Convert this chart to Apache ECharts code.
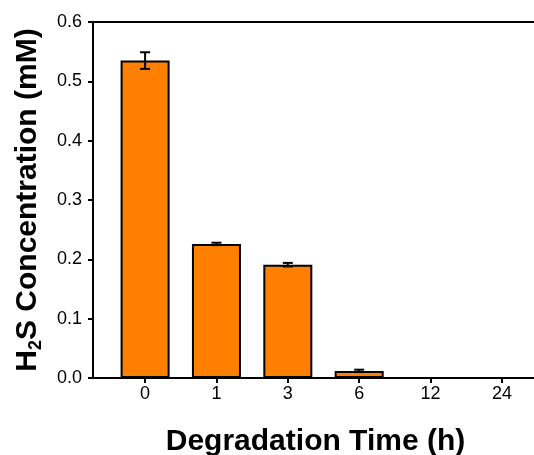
<!DOCTYPE html>
<html>
<head>
<meta charset="utf-8">
<script src="https://cdn.jsdelivr.net/npm/echarts@6/dist/echarts.min.js"></script>
<style>
html,body{margin:0;padding:0;background:#fff;}
#chart{width:534px;height:455px;}
</style>
</head>
<body>
<div id="chart"></div>
<script>
var categories = ['0', '1', '3', '6', '12', '24'];
var concentrations = [0.535, 0.226, 0.191, 0.012, 0, 0];
var errors = [0.014, 0.002, 0.003, 0.002, 0, 0];
var yTicks = [0, 0.1, 0.2, 0.3, 0.4, 0.5, 0.6];

var FONT = 'Arial, "Liberation Sans", sans-serif';
var positions = categories.map(function (c, i) { return i; });

var barData = concentrations.map(function (v, i) { return [positions[i], v]; });
var errData = [];
concentrations.forEach(function (v, i) {
  if (errors[i] > 0) errData.push([positions[i], v - errors[i], v + errors[i]]);
});

var chart = echarts.init(document.getElementById('chart'), null, {renderer: 'canvas'});
chart.setOption({
  animation: false,
  backgroundColor: '#ffffff',
  grid: {left: 93, top: 22, bottom: 77, width: 461, containLabel: false, outerBoundsMode: 'none'},
  xAxis: [{
    type: 'value',
    min: -0.73,
    max: 5.73,
    position: 'bottom',
    name: 'Degradation Time (h)',
    nameLocation: 'middle',
    nameGap: 49,
    nameTextStyle: {fontFamily: FONT, fontSize: 30, fontWeight: 'bold', color: '#000', padding: [0, 16, 0, 0]},
    axisLine: {show: true, onZero: false, lineStyle: {color: '#000', width: 2}},
    axisTick: {show: true, customValues: positions, length: 5, lineStyle: {color: '#000', width: 2}},
    axisLabel: {
      show: true, customValues: positions, margin: 7,
      fontFamily: FONT, fontSize: 18, color: '#000',
      formatter: function (v) { return categories[Math.round(v)]; }
    },
    splitLine: {show: false}
  }, {
    type: 'value',
    min: -0.73,
    max: 5.73,
    position: 'top',
    axisLine: {show: true, onZero: false, lineStyle: {color: '#000', width: 2}},
    axisTick: {show: false},
    axisLabel: {show: false},
    splitLine: {show: false}
  }],
  yAxis: {
    type: 'value',
    min: yTicks[0],
    max: yTicks[yTicks.length - 1],
    interval: 0.1,
    position: 'left',
    name: '{a|H}{s|2}{a|S Concentration (mM)}',
    nameLocation: 'middle',
    nameGap: 48,
    nameRotate: 90,
    nameTextStyle: {
      rich: {
        a: {fontFamily: FONT, fontSize: 30, fontWeight: 'bold', color: '#000', lineHeight: 34},
        s: {fontFamily: FONT, fontSize: 18, fontWeight: 'bold', color: '#000', lineHeight: 22, verticalAlign: 'bottom'}
      }
    },
    axisLine: {show: true, onZero: false, lineStyle: {color: '#000', width: 2}},
    axisTick: {show: true, length: 5, lineStyle: {color: '#000', width: 2}},
    axisLabel: {
      margin: 11, fontFamily: FONT, fontSize: 18, color: '#000',
      formatter: function (v) { return v.toFixed(1); }
    },
    splitLine: {show: false}
  },
  series: [{
    type: 'bar',
    xAxisIndex: 0,
    data: barData,
    barWidth: 49,
    itemStyle: {color: '#FF8000', borderColor: '#000', borderWidth: 2}
  }, {
    type: 'custom',
    xAxisIndex: 0,
    data: errData,
    z: 10,
    renderItem: function (params, api) {
      var x = api.value(0);
      var lo = api.coord([x, api.value(1)]);
      var hi = api.coord([x, api.value(2)]);
      var hw = 5;
      var style = {stroke: '#000', lineWidth: 2};
      return {
        type: 'group',
        children: [
          {type: 'line', shape: {x1: lo[0], y1: lo[1], x2: hi[0], y2: hi[1]}, style: style},
          {type: 'line', shape: {x1: hi[0] - hw, y1: hi[1], x2: hi[0] + hw, y2: hi[1]}, style: style},
          {type: 'line', shape: {x1: lo[0] - hw, y1: lo[1], x2: lo[0] + hw, y2: lo[1]}, style: style}
        ]
      };
    }
  }]
});
</script>
</body>
</html>
